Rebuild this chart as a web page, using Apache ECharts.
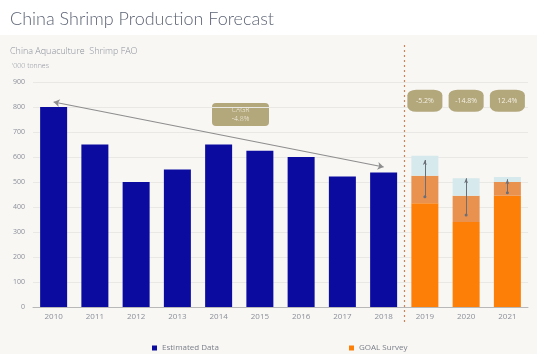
<!DOCTYPE html>
<html>
<head>
<meta charset="utf-8">
<script src="https://cdn.jsdelivr.net/npm/echarts@6/dist/echarts.min.js"></script>
<style>html,body{margin:0;padding:0;background:#fff}#c{width:542px;height:360px}</style>
</head>
<body>
<div id="c"></div>
<script>
const years = ['2010','2011','2012','2013','2014','2015','2016','2017','2018','2019','2020','2021'];
const estimated = [800, 650, 500, 550, 650, 625, 600, 522, 538, null, null, null];
const goalBase = [null, null, null, null, null, null, null, null, null, 415, 340, 445];
const goalUpper = [null, null, null, null, null, null, null, null, null, 110, 105, 55];
const goalRange = [null, null, null, null, null, null, null, null, null, 80, 70, 20];
const errLow = {'2019': 441, '2020': 368, '2021': 457};
const errHigh = {'2019': 588, '2020': 515, '2021': 511};
const changeLabels = {'2019': '-5.2%', '2020': '-14.8%', '2021': '12.4%'};
const changeLevel = 825;
const cagrFrom = ['2010', 820];
const cagrTo = ['2018', 560];
const yTicks = [0, 100, 200, 300, 400, 500, 600, 700, 800, 900];

const chart = echarts.init(document.getElementById('c'));
const font = '"Open Sans", sans-serif';
const khaki = '#b3a77c';

const errLines = Object.keys(errLow).map(y => [
  {coord: [y, errLow[y]]},
  {coord: [y, errHigh[y]]}
]);
const changePoints = Object.keys(changeLabels).map(y => ({
  coord: [y, changeLevel], value: changeLabels[y]
}));

chart.setOption({
  backgroundColor: '#ffffff',
  animation: false,
  textStyle: {fontFamily: font},
  graphic: [
    {type: 'rect', shape: {x: 0, y: 35, width: 537, height: 319}, style: {fill: '#f8f7f4'}, z: -10, silent: true},
    {type: 'text', left: 10, top: 10, style: {text: 'China Shrimp Production Forecast', fill: '#5d6475', font: '300 18px Lato, sans-serif'}},
    {type: 'text', left: 10, top: 47, style: {text: 'China Aquaculture  Shrimp FAO', fill: '#8a8f99', font: '300 9px "Open Sans", sans-serif'}},
    {type: 'text', left: 12, top: 62, style: {text: "'000 tonnes", fill: '#8a8f99', font: '300 7px "Open Sans", sans-serif'}},
    {type: 'line', shape: {x1: 404.5, y1: 45, x2: 404.5, y2: 324}, style: {stroke: '#c98458', lineWidth: 1.2, lineDash: [2, 3]}, z: 10},
    {type: 'group', left: 212, top: 103, children: [
      {type: 'rect', shape: {x: 0, y: 0, width: 57, height: 23, r: 4}, style: {fill: khaki}},
      {type: 'text', style: {x: 28.5, y: 11.5, text: 'CAGR\n-4.8%', fill: '#f4f0e2', font: '300 7px "Open Sans", sans-serif', textAlign: 'center', textVerticalAlign: 'middle', lineHeight: 9}}
    ]}
  ],
  legend: [
    {data: ['Estimated Data'], left: 147, top: 339, icon: 'rect', itemWidth: 5, itemHeight: 5, itemGap: 4,
     textStyle: {fontSize: 8, color: '#7a7f88', fontFamily: font}},
    {data: ['GOAL Survey'], left: 344, top: 339, icon: 'rect', itemWidth: 5, itemHeight: 5, itemGap: 4,
     textStyle: {fontSize: 8, color: '#7a7f88', fontFamily: font}}
  ],
  grid: {left: 33, right: 14, top: 82, bottom: 53},
  xAxis: {
    type: 'category', data: years,
    axisLine: {lineStyle: {color: '#b8b8b8'}},
    axisTick: {show: false},
    axisLabel: {fontSize: 8, color: '#8a8f99', margin: 6, fontFamily: font}
  },
  yAxis: {
    type: 'value', min: 0, max: 900, interval: 100,
    axisLine: {show: false}, axisTick: {show: false},
    axisLabel: {fontSize: 7, color: '#8a8f99', margin: 8, fontFamily: font,
      formatter: v => yTicks.includes(v) ? String(v) : ''},
    splitLine: {lineStyle: {color: '#e9e8e4'}}
  },
  series: [
    {
      name: 'Estimated Data', type: 'bar', stack: 'all', data: estimated, barWidth: 27,
      itemStyle: {color: '#0b0ba0'},
      markLine: {
        silent: true, symbol: ['arrow', 'arrow'], symbolSize: [6, 6],
        lineStyle: {color: '#8e8e8e', type: 'solid', width: 1.2},
        label: {show: false},
        data: [[{coord: cagrFrom}, {coord: cagrTo}]]
      }
    },
    {
      name: 'GOAL Survey', type: 'bar', stack: 'all', data: goalBase, barWidth: 27,
      itemStyle: {color: '#fd7f08'}
    },
    {
      name: 'GOAL Upper', type: 'bar', stack: 'all', data: goalUpper, barWidth: 27,
      itemStyle: {color: '#e99250'}
    },
    {
      name: 'GOAL Range', type: 'bar', stack: 'all', data: goalRange, barWidth: 27,
      itemStyle: {color: '#d6e9ec'},
      markLine: {
        silent: true, symbol: ['circle', 'arrow'], symbolSize: [3, 5],
        lineStyle: {color: '#6b6f78', type: 'solid', width: 1},
        label: {show: false},
        data: errLines
      },
      markPoint: {
        silent: true, symbol: 'roundRect', symbolSize: [35, 22],
        itemStyle: {color: khaki},
        label: {show: true, formatter: p => p.value, color: '#f4f0e2', fontSize: 7, fontFamily: font},
        data: changePoints
      }
    }
  ]
});
</script>
</body>
</html>
